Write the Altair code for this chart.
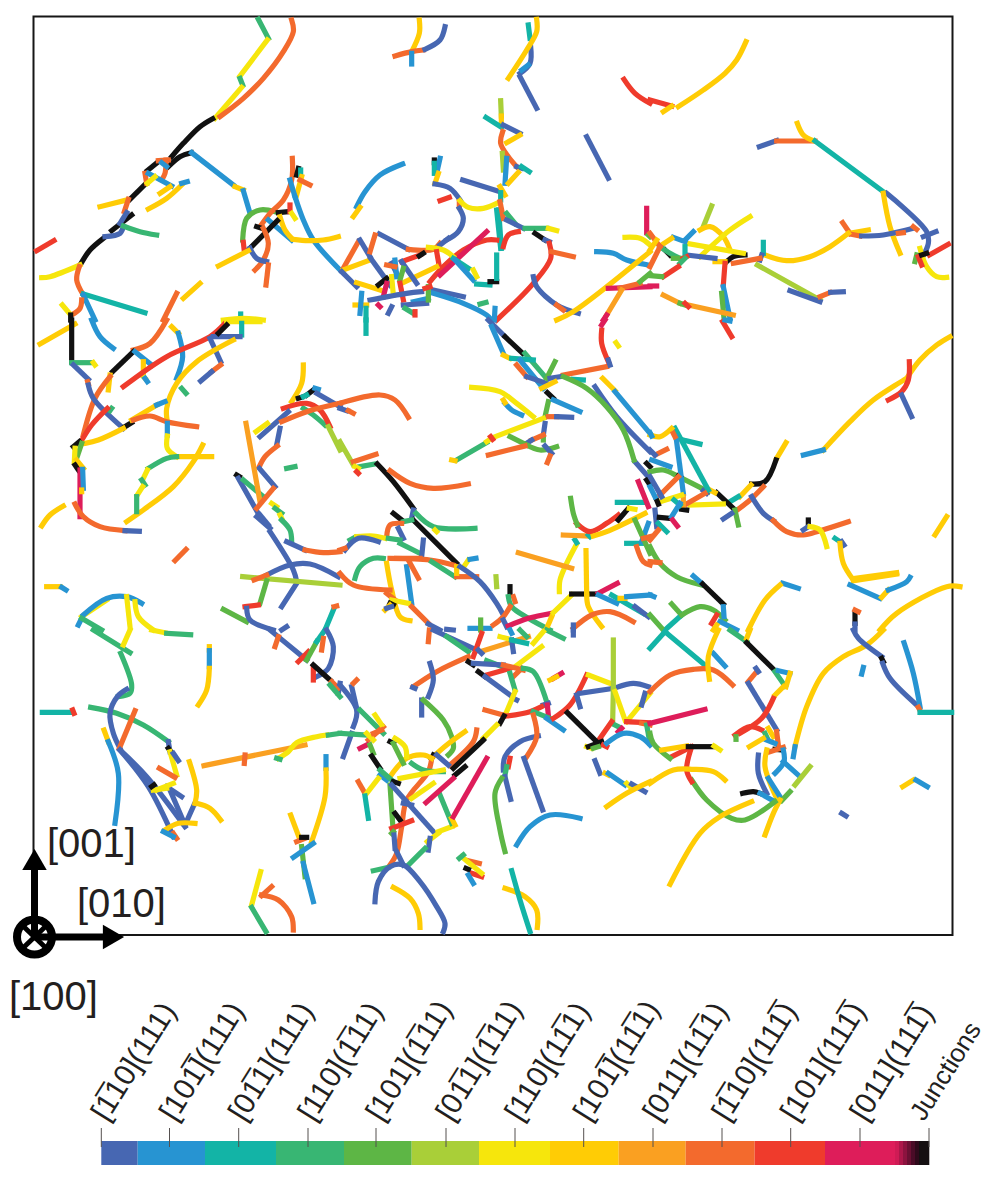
import altair as alt
import pandas as pd

# Slip-system keys
BL, SK, TE, GR, LF, LI, YE, GO, OR, DO, RE, CR, JK = range(13)
class_colors = ["#4767B2", "#2794D2", "#13B4A6", "#38B673", "#5DB645", "#A9CF38", "#F6E60C",
                "#FFCC05", "#FAA021", "#F36A2D", "#EF3B2C", "#DE1D5A", "#111111"]
class_edges = [101.3, 137.7, 205, 276, 344, 411.7, 479, 550, 618.7, 685.7, 754.7, 825, 895]
fade_edges = [895, 899, 903, 907, 911, 915, 919, 929.3]
fade_colors = ["#CF1B55", "#AD174A", "#8C133F", "#6B1033", "#4A0C27", "#2E0A1B", "#151012"]
tick_x = [101.3, 169.5, 238.7, 308, 376, 446, 515, 583.7, 653, 722, 790.7, 860, 929]
label_x = [99.3, 167.5, 236.7, 306, 374, 444, 513, 581.7, 651, 720, 788.7, 858, 917]
label_size = [30, 30, 30, 30, 30, 30, 30, 30, 30, 30, 30, 30, 26]
O = "\u0305"
tick_labels = ["[1" + O + "10](111)", "[101" + O + "](111)", "[01" + O + "1](111)",
               "[110](1" + O + "11)", "[101](1" + O + "11)", "[01" + O + "1](1" + O + "11)",
               "[110](11" + O + "1)", "[101" + O + "](11" + O + "1)", "[011](11" + O + "1)",
               "[1" + O + "10](111" + O + ")", "[101](111" + O + ")", "[011](111" + O + ")", "Junctions"]

# Dislocation lines, per region: (class, [x, y, x, y, ...]) in 1/3 px from the region origin
region_a = (30, 10, [
 (GR,[685,28,715,85]),(YE,[712,90,630,198]),(GR,[630,205,638,225]),(YE,[635,232,555,325]),
 (DO,[785,30,790,65,760,125,700,205,640,265,570,320]),(JK,[548,326,510,350,460,400,425,440]),
 (JK,[484,428,450,440,415,470]),(JK,[385,455,352,482]),(JK,[348,520,300,568]),(JK,[305,615,245,662]),
 (JK,[220,685,180,720,155,757]),(DO,[385,452,415,450]),(DO,[408,450,405,490,395,510]),(DO,[345,490,350,520]),
 (SK,[395,458,410,470]),(SK,[355,490,425,528]),(YE,[352,520,375,500]),(GO,[390,550,420,530]),
 (GO,[355,597,410,565,455,525]),(SK,[455,520,472,515]),(GO,[210,590,290,570]),(DO,[295,568,283,605]),
 (BL,[290,608,270,640]),(BL,[225,680,270,670,280,650]),(GR,[280,648,330,665,380,675]),(RE,[20,722,72,692]),
 (YE,[35,803,60,800,150,765]),(DO,[148,770,140,810,160,855]),(TE,[160,852,345,908]),(SK,[160,855,195,930]),
 (DO,[155,870,150,895,125,915]),(YE,[97,885,120,912]),(JK,[122,915,122,930]),(SK,[485,428,610,525]),
 (GO,[615,530,640,540]),(SK,[640,542,660,610]),(LF,[735,605,690,600,650,625,638,690]),(RE,[640,697,642,715]),
 (DO,[787,445,785,510,760,570,720,610,690,650]),(JK,[805,475,800,495]),(TE,[812,480,812,495]),
 (GO,[815,500,800,555]),(SK,[780,510,795,560]),(DO,[810,510,840,525]),(JK,[745,608,775,605]),(RE,[780,585,780,605]),
 (SK,[795,560,820,630,850,690,930,780]),(SK,[715,630,785,690]),(GO,[790,688,835,692,880,690,925,680]),
 (YE,[785,610,795,625]),(GO,[750,620,765,660,785,685]),(JK,[742,632,660,715]),(JK,[680,650,695,655]),
 (DO,[700,655,715,700,700,750,675,780]),(BL,[660,715,680,745,710,755]),(DO,[715,765,708,825]),
 (GO,[565,768,655,722]),(GO,[460,865,510,820]),(DO,[440,850,400,930]),(TE,[632,912,632,920]),(YE,[580,930,640,925,700,930]),
])
region_b = (340, 10, [
 (GO,[238,30,238,70,215,125]),(DO,[165,138,215,125,250,120]),(BL,[255,118,300,90,315,50]),(SK,[215,130,215,162]),
 (TE,[565,45,570,85]),(BL,[572,110,570,160,540,190]),(GO,[590,28,590,65,560,120,505,205]),(SK,[545,180,565,165]),
 (BL,[540,200,590,295]),(RE,[852,208,885,250,930,280]),(LI,[482,272,484,318]),(GO,[484,318,484,345]),
 (TE,[438,322,485,352]),(BL,[490,345,540,370]),(GO,[500,398,540,375]),(DO,[488,365,482,400,505,440,530,470]),
 (LI,[487,430,490,480]),(SK,[500,445,495,520]),(BL,[530,470,545,475]),(TE,[545,470,568,485]),(GO,[535,487,505,520]),
 (BL,[740,380,805,505]),(SK,[188,462,120,495,75,545,50,590]),(GO,[60,592,40,620]),(JK,[283,450,283,458]),
 (SK,[300,445,290,490]),(TE,[283,460,283,490]),(GO,[295,490,285,520]),(BL,[285,522,330,535,360,570]),
 (DO,[358,575,358,590]),(BL,[358,595,370,625,355,665,320,690]),(YE,[360,572,385,592,430,595,475,578]),
 (BL,[368,510,480,545]),(GO,[480,530,495,555]),(TE,[482,548,482,570]),(RE,[300,572,328,562]),
 (TE,[470,600,482,715]),(TE,[476,600,484,715]),(DO,[480,575,490,625]),(GR,[500,610,525,640]),(BL,[500,630,550,655]),
 (GR,[555,655,620,655]),(YE,[625,655,650,662]),(BL,[118,672,205,718]),(DO,[205,718,280,718,300,700]),
 (BL,[300,705,325,685]),(RE,[270,815,310,770,370,720,440,690,470,690]),(CR,[300,795,440,665]),
 (RE,[490,710,505,675,535,665]),(JK,[585,670,615,690]),(BL,[615,690,628,695]),
 (RE,[628,700,632,745,580,820,470,930]),(DO,[635,725,700,740]),(SK,[770,725,820,730,860,750,925,765]),
 (DO,[10,775,55,695]),(BL,[60,690,90,740]),(DO,[90,725,105,675]),(GO,[10,780,90,750]),(BL,[92,745,150,825]),
 (RE,[185,755,240,735]),(JK,[238,738,250,730]),(YE,[265,712,310,720,340,740]),(RE,[290,725,298,770]),
 (GO,[185,820,290,770]),(TE,[340,745,385,775]),(SK,[345,750,400,810]),(YE,[400,780,410,800]),(TE,[410,822,450,825]),
 (JK,[450,815,470,815]),(TE,[470,735,470,805]),(BL,[5,785,50,830]),(GO,[50,818,120,840]),(JK,[115,825,140,805]),
 (YE,[155,800,160,855]),(BL,[155,760,170,790]),(SK,[165,750,170,800]),(BL,[185,755,230,820]),(LF,[190,775,180,810]),
 (DO,[140,765,165,770]),(CR,[140,820,130,860]),(RE,[180,820,190,870]),(BL,[90,870,200,850,245,845]),
 (SK,[220,875,265,865]),(BL,[190,885,260,880]),(BL,[280,840,370,860]),(SK,[280,850,370,880,440,915,455,930]),
 (LF,[265,830,265,870]),(RE,[270,830,255,835]),(SK,[465,895,463,930]),(GO,[45,885,80,885]),(TE,[78,895,78,930]),
 (SK,[65,850,60,910]),(BL,[145,910,155,890]),(GR,[195,895,220,910]),(RE,[225,905,225,915]),(CR,[115,885,120,890]),
 (GR,[420,882,438,877]),(BL,[580,800,590,830,650,885,715,910]),(DO,[650,885,670,900]),
 (GO,[650,930,700,905,930,725]),(CR,[805,835,930,830]),(DO,[840,835,900,820]),(LF,[900,815,930,790]),
 (OR,[845,840,800,915]),(CR,[800,915,790,930]),(CR,[920,595,920,668]),(YE,[855,682,900,685,930,705]),(LF,[925,675,930,680]),
])
region_c = (650, 10, [
 (GO,[288,95,260,150,225,190,160,240,85,290]),(RE,[0,270,65,288]),(GO,[65,288,40,305]),(BL,[328,410,380,392]),
 (DO,[380,393,495,393]),(GO,[442,340,460,375,490,392]),(TE,[495,393,700,545]),(BL,[710,550,830,665,835,700,815,745]),
 (GO,[700,550,720,650,750,730]),(BL,[858,665,820,680]),(DO,[578,638,600,670]),(GO,[598,670,655,660]),
 (DO,[600,672,630,678]),(BL,[635,678,700,675,790,655]),(DO,[790,650,800,658]),(DO,[745,670,760,668]),
 (GO,[345,735,410,752,480,740,540,710,595,670]),(RE,[895,703,838,735]),(YE,[810,715,830,770,860,800,890,802]),
 (LF,[800,735,795,755]),(RE,[805,740,815,765]),(JK,[815,735,830,730]),(TE,[340,697,340,730]),(BL,[335,735,330,750]),
 (DO,[330,745,250,760]),(JK,[230,755,250,740,285,735]),(GO,[195,755,225,755]),(RE,[225,760,220,825]),
 (LI,[322,765,510,870]),(BL,[420,842,510,875]),(DO,[510,860,540,848]),(BL,[542,847,580,845]),(LI,[185,588,160,650]),
 (GO,[150,660,180,650,220,680,240,720]),(SK,[130,665,105,690]),(YE,[110,700,280,730]),(YE,[300,620,240,660,150,740]),
 (BL,[110,735,195,745]),(SK,[70,682,105,695]),(GO,[65,685,35,705]),(JK,[45,720,60,735]),(GR,[30,710,60,730,90,745]),
 (LF,[70,745,100,745]),(TE,[105,710,105,735]),(RE,[100,745,110,740]),(GR,[90,760,105,745]),(RE,[40,800,85,770]),
 (LF,[0,797,35,800]),(CR,[0,828,20,828]),(SK,[220,830,240,925]),(LF,[215,850,222,925]),(OR,[40,855,90,880]),
 (OR,[115,885,250,915]),(LF,[90,880,105,885]),(RE,[105,880,115,890]),(DO,[0,670,30,710]),(GO,[0,720,20,690]),
 (DO,[30,710,0,770]),
])
region_d = (30, 320, [
 (GO,[30,72,135,12]),(JK,[125,0,125,125]),(SK,[185,0,210,50,250,85]),(GR,[125,128,185,128]),(YE,[190,128,195,135]),
 (DO,[310,90,360,70,410,0]),(JK,[310,95,248,155]),(SK,[315,95,365,135]),(GO,[340,125,340,165]),(YE,[335,165,345,175]),
 (SK,[345,175,352,185]),(GO,[425,20,445,40]),(SK,[445,40,458,110,440,175]),(RE,[280,200,410,110,540,50,585,10]),
 (YE,[590,5,690,5]),(TE,[635,10,635,45]),(BL,[550,50,630,50]),(JK,[565,40,590,15]),(BL,[540,55,572,125]),
 (DO,[572,135,545,155]),(BL,[545,155,512,183]),(GO,[610,60,500,125,440,190,410,265,412,305]),(GO,[240,165,235,210]),
 (DO,[240,170,195,235,160,345]),(BL,[130,135,175,178]),(DO,[173,185,175,192]),(BL,[175,195,190,235,280,325]),
 (JK,[282,322,305,308]),(GO,[305,300,380,255]),(SK,[380,255,405,245]),(GR,[245,265,240,272]),
 (RE,[232,265,185,315,150,370]),(GO,[165,370,205,360,280,325]),(DO,[310,300,360,288,410,305,500,320]),
 (SK,[412,310,412,345]),(YE,[412,348,412,385,440,410]),(GO,[440,410,545,410]),
 (GO,[518,375,490,425,430,500,340,570,290,605]),(GR,[440,410,410,415,355,445]),(YE,[352,450,340,475]),
 (GR,[335,480,345,495]),(YE,[338,500,322,525]),(GR,[320,530,320,575]),(GR,[455,205,468,220]),(JK,[130,380,148,365]),
 (LF,[155,370,140,415]),(YE,[135,385,133,425]),(GO,[140,420,160,445]),(JK,[135,435,145,450]),(CR,[150,450,150,590]),
 (SK,[158,448,160,505]),(GO,[155,510,155,515]),(GO,[100,558,60,585,35,618]),(DO,[135,552,160,590,210,620,285,632]),
 (BL,[285,632,328,634]),(DO,[468,688,435,722]),(GO,[50,800,90,800]),(SK,[95,802,108,810]),
 (GO,[820,135,815,190,785,245]),(JK,[805,235,815,232]),(JK,[830,225,850,210]),(SK,[855,205,865,208]),
 (TE,[820,230,830,225]),(BL,[860,220,930,260]),(GR,[820,265,850,285,885,315]),(RE,[760,265,830,250,870,270,900,320]),
 (LI,[895,320,930,390]),(BL,[690,350,775,275]),(DO,[755,305,830,275,930,250]),(YE,[678,335,712,310]),
 (BL,[750,325,740,375]),(DO,[742,378,705,410,688,440]),(GR,[770,445,795,440]),(BL,[688,445,735,500]),
 (JK,[620,465,628,470]),(BL,[625,475,690,590]),(BL,[680,590,720,625]),(BL,[690,585,715,615]),(GR,[640,480,700,530]),
 (OR,[648,310,690,545]),(DO,[730,505,680,565]),(YE,[725,550,740,560]),(GR,[735,565,755,580]),(YE,[750,585,755,595]),
 (GR,[755,600,780,630,785,665]),(BL,[720,635,790,750,800,785]),(BL,[800,790,755,860]),(BL,[770,665,825,690]),
 (DO,[825,690,880,698,930,695]),(BL,[710,765,780,735,840,732,925,770]),(LI,[638,770,930,795]),(DO,[672,780,710,765]),
 (LF,[710,782,690,850]),(RE,[645,860,685,855]),(LF,[580,868,650,905]),(BL,[650,865,660,900,730,930]),
 (BL,[755,930,770,920]),(TE,[885,930,912,865]),(DO,[912,860,920,858]),(SK,[145,915,155,895]),(YE,[155,890,230,840]),
 (SK,[160,885,230,835,290,830,335,850]),(YE,[290,830,300,920]),(YE,[315,845,325,890,370,930]),(GR,[155,895,215,930]),
])
region_e = (340, 320, [
 (TE,[78,0,78,40]),(BL,[445,0,490,45]),(SK,[455,20,490,100]),(JK,[495,50,548,100]),(GR,[555,100,615,170]),
 (GO,[490,105,510,115]),(TE,[515,115,580,120]),(DO,[530,135,560,170]),(SK,[540,120,610,205]),(BL,[560,170,620,190]),
 (LF,[645,125,620,175]),(DO,[670,165,800,140]),(BL,[630,175,660,170]),(GO,[605,205,645,185]),(TE,[700,178,730,180]),
 (RE,[805,125,785,70,785,30]),(CR,[785,15,795,0]),(BL,[805,120,810,135]),(JK,[622,218,640,235]),(LF,[625,245,615,290]),
 (SK,[640,240,720,275]),(DO,[625,290,650,290]),(BL,[650,290,695,292]),(YE,[395,202,480,215,530,250,580,290]),
 (SK,[495,250,515,270,545,285]),(GO,[490,240,495,248]),(YE,[460,352,610,295]),(BL,[615,310,610,345]),
 (LF,[610,350,610,360]),(DO,[610,345,575,360]),(BL,[575,360,560,370]),(LF,[510,350,560,375]),
 (LF,[560,375,600,390,650,380]),(BL,[615,378,635,400]),(DO,[630,408,622,428]),(GR,[350,420,440,368]),
 (YE,[440,365,450,358]),(RE,[452,350,458,358]),(GO,[335,420,345,422]),(DO,[445,405,555,378]),
 (DO,[0,250,120,225,165,240,205,292]),(BL,[0,265,20,272]),(DO,[25,272,40,280]),(LI,[0,365,40,435]),(DO,[40,425,108,403]),
 (GR,[60,440,105,432]),(YE,[45,440,55,445]),(RE,[50,455,55,460]),(JK,[112,432,160,485,220,565]),
 (DO,[150,452,210,490,280,505,385,492]),(BL,[220,570,215,595]),(GR,[228,580,280,620,405,625]),(YE,[285,630,290,635]),
 (JK,[160,580,185,600]),(JK,[220,600,350,730]),(GR,[190,605,215,600]),(DO,[185,610,150,615,140,650]),(BL,[175,625,190,655]),
 (GR,[30,660,45,652]),(YE,[50,650,100,648,135,655]),(BL,[115,665,55,655,15,690]),(DO,[0,690,15,685]),(GR,[145,655,180,660]),
 (GR,[180,670,240,700]),(BL,[250,660,245,710]),(DO,[150,715,270,720,340,735]),(DO,[170,715,240,715]),
 (GR,[45,775,60,740,100,715,130,715]),(GO,[140,730,155,810,180,890,210,902]),(SK,[200,740,215,850]),(DO,[205,720,235,775]),
 (GR,[275,725,345,770]),(DO,[350,770,410,770]),(GO,[350,740,350,760]),(YE,[375,735,385,720]),(SK,[390,718,408,715]),
 (BL,[360,740,420,785,470,850,490,885]),(DO,[0,760,40,795,150,810]),(DO,[140,820,165,840]),(YE,[155,840,205,850]),
 (JK,[150,850,160,855]),(GO,[135,870,150,855]),(BL,[140,865,155,860]),(DO,[215,860,265,910]),(BL,[265,912,300,930]),
 (BL,[320,928,340,930]),(SK,[390,925,450,925]),(LI,[468,770,470,800]),(JK,[510,800,510,825]),(DO,[520,830,525,845]),
 (GR,[505,830,515,860,565,895,630,930]),(DO,[510,860,490,890,460,915]),(LF,[422,900,422,930]),(BL,[490,900,500,920]),
 (CR,[505,918,565,895,635,880]),(GO,[635,890,620,925]),(YE,[640,878,695,825]),(JK,[695,822,770,822]),(CR,[775,820,832,790]),
 (YE,[710,672,680,730,660,780,658,815]),(TE,[705,660,710,668]),(GO,[738,692,740,820]),(GO,[740,825,745,860,785,920]),
 (OR,[535,698,695,745]),(OR,[670,645,745,648]),(TE,[745,645,750,650]),(RE,[710,610,750,635,800,610,835,585]),
 (JK,[835,600,865,565]),(GO,[760,648,800,635,915,580]),(YE,[868,565,885,568]),(LF,[692,535,700,580,712,615]),
 (TE,[832,547,915,547]),(CR,[895,485,925,560]),(BL,[885,425,920,465]),(JK,[920,430,930,440]),(JK,[920,480,930,495]),
 (BL,[765,200,830,290,930,395]),(LF,[670,170,740,205,800,260,850,330,882,420]),(GO,[788,175,825,212]),(SK,[825,215,930,340]),
 (DO,[700,925,755,885,810,875,880,905]),(BL,[700,915,700,930]),(SK,[775,825,830,850]),(TE,[815,825,910,880]),
 (GO,[840,835,855,835]),(SK,[860,830,930,825]),(BL,[885,860,925,890]),(TE,[860,670,910,670]),(SK,[925,610,905,665]),
 (LF,[885,600,930,700]),(DO,[890,680,910,725,930,735]),(DO,[910,655,930,650]),(YE,[828,68,835,78]),
])
region_f = (650, 320, [
 (RE,[218,5,245,50]),(SK,[225,0,240,3]),(GO,[520,390,600,305,670,240,770,175]),(SK,[460,405,520,390]),
 (GO,[770,175,810,120,860,75,900,50]),(RE,[778,125,775,180,755,215,715,240]),(BL,[755,225,785,290]),(GO,[408,368,380,415]),
 (JK,[378,420,345,485,305,492]),(GO,[303,495,270,530]),(TE,[265,530,240,545]),(DO,[340,500,300,540,255,575]),
 (JK,[200,518,250,565]),(LF,[255,570,265,615]),(BL,[245,580,220,597]),(YE,[120,555,220,552]),
 (LF,[0,455,40,450,90,472,175,515]),(BL,[160,512,170,520]),(GO,[180,510,195,518]),(JK,[85,468,92,472]),
 (TE,[75,325,175,510]),(SK,[78,350,100,520]),(TE,[100,360,150,372]),(GO,[0,345,30,350,65,325]),(SK,[0,338,5,348]),
 (DO,[70,340,75,350]),(DO,[15,405,50,388]),(BL,[0,390,15,405]),(SK,[5,420,60,440]),(DO,[165,520,95,560]),
 (DO,[30,525,85,470]),(JK,[95,568,110,570]),(OR,[100,530,100,555]),(YE,[30,545,95,525]),(TE,[72,540,90,555]),
 (JK,[20,540,25,552]),(BL,[0,470,35,530]),(SK,[0,500,15,530]),(BL,[15,570,20,620]),(JK,[28,592,60,595]),
 (SK,[65,590,90,550]),(CR,[68,600,82,618]),(TE,[25,610,50,635]),(DO,[0,660,25,630]),
 (BL,[305,530,340,580,370,602]),(DO,[370,602,410,635,460,645,510,632,595,605]),(JK,[475,600,475,615]),(BL,[460,630,475,620]),
 (YE,[480,620,510,630,530,680]),(TE,[555,655,570,665]),(BL,[575,665,582,675]),(GO,[570,670,580,730,610,780]),
 (GO,[610,782,740,762]),(GO,[610,776,740,758]),(SK,[600,795,690,835]),(GO,[695,832,715,810]),(SK,[715,810,770,785,780,772]),
 (GO,[890,590,855,645]),(SK,[398,790,445,805]),(GO,[390,795,345,840,295,930]),(LF,[0,680,30,730,80,770,155,795]),
 (SK,[130,768,155,790]),(JK,[158,792,220,852]),(DO,[0,725,30,728]),(SK,[0,825,12,830]),(LF,[65,852,95,885]),
 (TE,[45,930,95,885]),(LF,[95,885,150,860,190,870,225,900]),(SK,[220,860,222,890]),(RE,[185,910,200,885]),
 (SK,[210,905,260,930]),(GO,[200,915,190,930]),(LF,[0,885,40,930]),(GO,[690,930,740,880,890,800,930,800]),
 (JK,[615,880,615,910]),(DO,[615,870,625,875]),(BL,[615,912,615,930]),
])
region_g = (30, 630, [
 (GR,[190,0,300,68]),(YE,[300,0,280,45]),(YE,[365,0,405,8]),(GR,[410,10,482,14]),(GO,[538,50,538,60]),(SK,[538,62,538,110]),
 (GO,[538,115,530,180,505,225]),(GR,[272,70,305,165,300,190,265,200]),(TE,[37,247,125,247]),(RE,[128,240,132,250]),
 (GR,[182,232,260,250,340,285,415,335]),(BL,[290,178,262,200,240,250,250,310,270,355]),(DO,[315,242,268,355]),
 (BL,[415,335,420,365]),(JK,[415,355,420,362]),(YE,[420,365,440,435]),(BL,[430,370,445,392]),(GO,[222,300,235,335]),
 (SK,[235,335,265,430,255,580]),(DO,[388,415,435,442]),(BL,[270,360,355,470,430,620]),(BL,[270,360,350,440,465,590]),
 (BL,[410,470,455,500]),(BL,[420,480,465,585]),(BL,[492,525,465,585]),(YE,[380,480,430,460]),(YE,[370,480,410,475]),
 (JK,[365,470,372,465]),(GO,[405,600,445,580,495,580]),(DO,[430,610,440,625]),(SK,[400,605,430,620]),
 (GO,[478,395,500,480,495,520]),(GO,[500,520,540,535,572,570]),(OR,[522,407,825,345]),(DO,[645,375,643,400]),
 (YE,[745,385,775,365,800,338,860,320,890,315]),(GR,[895,315,930,310]),(GR,[740,385,750,388]),(SK,[888,380,888,415]),
 (GO,[888,420,885,500,845,635]),(GO,[782,555,810,630]),(DO,[800,635,825,625]),(JK,[815,622,830,622]),(LF,[815,650,825,740]),
 (SK,[790,682,850,640]),(SK,[820,700,850,815]),(YE,[692,725,665,825]),(GR,[665,832,708,905]),(DO,[725,770,695,797]),
 (DO,[695,795,745,810,785,860,790,900]),(BL,[720,0,830,90]),(DO,[745,20,735,50]),(RE,[835,65,805,95]),(LF,[860,35,830,90]),
 (TE,[885,0,860,35]),(DO,[880,25,875,60]),(BL,[890,0,910,50,895,115,860,140]),(RE,[850,110,850,150]),(JK,[850,105,900,150]),
 (BL,[930,160,925,190]),(DO,[905,155,925,175]),(GR,[900,165,930,200]),
])
region_h = (340, 630, [
 (DO,[268,0,265,35]),(BL,[280,0,410,60]),(GR,[320,20,385,65]),(OR,[430,62,565,20]),(RE,[425,10,400,80]),(BL,[415,60,425,70]),
 (YE,[480,20,500,25]),(SK,[510,0,515,10]),(BL,[515,30,520,65]),(GR,[540,0,560,20]),(GR,[620,0,670,25]),(BL,[700,0,700,15]),
 (YE,[610,5,580,40]),(TE,[515,30,560,40]),(YE,[605,50,525,110]),(DO,[220,170,290,125,385,80]),(BL,[218,172,225,175]),
 (BL,[270,100,280,150,265,200]),(BL,[245,210,245,255]),(LF,[250,210,310,270,335,320,340,355,325,375]),(JK,[385,95,400,105]),
 (GR,[440,92,500,115]),(BL,[400,100,490,105]),(RE,[440,135,510,115]),(DO,[490,105,530,115,550,120]),(JK,[415,125,435,140]),
 (BL,[435,140,510,195]),(BL,[520,205,530,210]),(DO,[545,115,520,140]),(GR,[510,130,525,180]),(GR,[550,115,580,125,620,215]),
 (BL,[610,225,625,220]),(YE,[525,185,500,245]),(DO,[435,240,490,255]),(RE,[500,258,570,245,605,230]),(CR,[622,225,625,255]),
 (GR,[580,245,630,265]),(SK,[620,265,670,300]),(RE,[640,265,690,225,740,135]),(BL,[595,318,540,335,495,380,490,420]),
 (DO,[560,380,590,320,580,255]),(RE,[510,385,505,410]),(GR,[500,410,495,435]),(BL,[495,440,512,508]),
 (LF,[485,445,465,490,480,600,495,665]),(BL,[552,385,608,540]),(SK,[530,645,570,590,630,555,720,565]),(JK,[492,258,480,280]),
 (YE,[470,285,430,325]),(DO,[410,300,400,335,330,405]),(JK,[430,330,340,415]),(GO,[375,305,320,345,280,380]),
 (JK,[280,375,275,385]),(BL,[290,375,325,405]),(JK,[345,435,375,410]),(LF,[150,465,160,610]),
 (DO,[275,385,265,425,200,510,185,590,170,670,150,705]),(YE,[215,505,280,460]),(GO,[150,440,200,385,250,375,275,385]),
 (GR,[215,400,250,420,310,425]),(YE,[180,445,310,420]),(JK,[150,335,160,340]),(LF,[160,340,190,400]),(YE,[165,325,195,350,200,380]),
 (BL,[35,170,50,235]),(DO,[40,160,50,150]),(BL,[0,165,50,240,40,290]),(BL,[35,310,10,380]),(GR,[0,310,75,315]),
 (GR,[60,240,130,310]),(DO,[85,330,130,290]),(YE,[80,310,100,330]),(YE,[105,255,125,285]),(CR,[60,355,80,345]),
 (DO,[100,310,125,300]),(LF,[90,345,100,370]),(JK,[95,378,120,415]),(SK,[120,435,140,450]),(GR,[120,420,155,450]),
 (JK,[160,455,175,460]),(DO,[55,455,75,490]),(YE,[80,490,115,445]),(TE,[75,498,85,565]),(BL,[155,465,280,605]),
 (BL,[190,520,215,525]),(JK,[165,550,180,570]),(RE,[155,595,215,572]),(LF,[155,610,160,605]),(BL,[162,615,165,655]),
 (YE,[295,605,335,590]),(GR,[300,495,335,580]),(GO,[335,565,345,585]),(CR,[258,518,340,445]),(CR,[340,560,440,385]),
 (YE,[262,635,295,610]),(BL,[270,625,265,660]),(GR,[255,655,205,705]),(GR,[100,722,145,712]),(BL,[170,665,190,705]),
 (BL,[105,815,115,755,150,710,190,705,240,755,290,830,315,880,310,905]),(GO,[160,772,210,805,235,850,240,892]),
 (DO,[385,692,418,700]),(RE,[395,730,425,740]),(YE,[365,680,425,730]),(GR,[358,685,370,675]),(JK,[378,715,385,718]),
 (SK,[385,735,400,760]),(GO,[495,775,555,800,590,840,592,892]),(TE,[515,722,540,810,570,905]),(CR,[640,145,665,130]),
 (GO,[630,150,650,140]),(YE,[745,135,810,160]),(BL,[720,190,820,175]),(BL,[710,195,720,230]),(BL,[830,172,880,160,925,170]),
 (LI,[820,30,820,175]),(LI,[820,180,818,275]),(YE,[825,185,855,270]),(YE,[860,275,930,190]),(BL,[905,225,915,190]),
 (GR,[815,280,835,290]),(RE,[780,325,815,275]),(CR,[835,305,845,295]),(RE,[860,275,925,278]),(DO,[905,280,930,285]),
 (GR,[920,285,930,340]),(JK,[682,248,780,345]),(YE,[740,350,755,355]),(JK,[745,350,785,335]),(RE,[790,345,800,350]),
 (LF,[760,355,775,350]),(SK,[800,340,850,310,900,320,930,345]),(BL,[765,392,780,430]),(GO,[795,430,805,435]),
 (SK,[805,430,855,465]),(YE,[860,460,870,470]),(BL,[875,462,915,485]),(GO,[800,530,860,490,930,455]),
])
region_i = (650, 630, [
 (TE,[0,55,45,5]),(TE,[45,5,170,110]),(SK,[190,70,225,108]),(DO,[0,185,60,135,130,118,190,120,248,165]),(GO,[205,0,175,80,178,148]),
 (GR,[240,0,290,35]),(GO,[290,25,300,0]),(JK,[290,38,378,125]),(GR,[375,125,405,168]),(SK,[385,122,420,130]),(GO,[420,130,408,170]),
 (DO,[295,155,320,125]),(BL,[318,115,325,125]),(BL,[295,160,380,300]),(GO,[375,195,400,170]),(RE,[370,205,335,265,270,310]),
 (RE,[255,315,300,290,335,300]),(LF,[258,320,258,328]),(GO,[355,295,370,320]),(GR,[345,310,352,325]),(DO,[380,305,385,345]),
 (SK,[350,330,375,340]),(JK,[375,358,395,360]),(DO,[360,365,400,352]),(GO,[298,350,340,325]),(SK,[400,360,402,395,375,430]),
 (SK,[400,395,450,440]),(GO,[435,350,470,230,520,130,580,80,650,45,700,0]),(SK,[435,350,430,380]),(BL,[610,0,625,25,695,80]),
 (JK,[695,85,700,95]),(BL,[698,100,720,145,800,225]),(SK,[762,38,790,130,810,230]),(DO,[805,232,812,245]),(TE,[810,247,905,247]),
 (SK,[640,112,635,132]),(LI,[480,410,435,465]),(BL,[325,375,325,430,350,490]),(GO,[350,360,345,410,380,505]),(SK,[355,445,390,500]),
 (JK,[278,490,310,485,330,490]),(SK,[330,490,375,515]),(LF,[420,485,395,512]),(GO,[390,510,370,550,345,615]),
 (LF,[375,515,285,570,245,565,170,510,125,450]),(RE,[125,455,110,420,125,350]),(RE,[125,350,65,380]),
 (GO,[0,460,70,420,130,418,190,425,225,450]),(CR,[0,280,165,238]),(LF,[0,310,10,340,60,385]),(GO,[35,360,110,348]),
 (JK,[115,350,188,350]),(YE,[192,348,210,360]),(GO,[305,515,210,560,150,610,60,763]),(GO,[758,470,790,450]),(SK,[798,450,832,470]),
 (BL,[575,550,588,558]),
])
regions = [region_a, region_b, region_c, region_d, region_e, region_f, region_g, region_h, region_i]

rows = []
line_id = 0
for ox, oy, lines in regions:
    for key, pts in lines:
        for k in range(0, len(pts), 2):
            rows.append({"x": ox + pts[k] / 3, "y": oy + pts[k + 1] / 3, "line": line_id, "cls": key, "k": k})
        line_id += 1
lines_df = pd.DataFrame(rows)

xs = alt.Scale(domain=[8, 986], range=[0, 978], nice=False, zero=False)
ys = alt.Scale(domain=[8, 1168], range=[0, 1160], nice=False, zero=False)
X = lambda f="x": alt.X(f, type="quantitative", scale=xs, axis=None)
Y = lambda f="y": alt.Y(f, type="quantitative", scale=ys, axis=None)

frame = alt.Chart(pd.DataFrame({"x": [33.5], "x2": [952.5], "y": [16.5], "y2": [935]})).mark_rect(
    fill="white", stroke="#161616", strokeWidth=2).encode(X(), x2="x2", y=Y(), y2="y2")

dislocations = alt.Chart(lines_df).mark_line(strokeWidth=5.2, strokeCap="square", strokeJoin="round",
                                             interpolate="catmull-rom").encode(
    X(), Y(),
    color=alt.Color("cls:N", scale=alt.Scale(domain=list(range(13)), range=class_colors), legend=None),
    detail="line:N", order="k:Q")

bar_df = pd.DataFrame({"x": class_edges[:12] + fade_edges[:-1],
                       "x2": class_edges[1:] + fade_edges[1:],
                       "c": class_colors[:12] + fade_colors})
bar_df["y"] = 1141
bar_df["y2"] = 1165
colorbar = alt.Chart(bar_df).mark_rect().encode(X(), x2="x2", y=Y(), y2="y2", fill=alt.Fill("c:N", scale=None))

tick_df = pd.DataFrame({"x": tick_x, "lx": label_x, "fs": label_size, "label": tick_labels})
tick_df["y"] = 1128
tick_df["y2"] = 1147
ticks = alt.Chart(tick_df).mark_rule(color="#55504f", strokeWidth=1).encode(X(), y=Y(), y2="y2")
tick_df["ly"] = 1118
tick_text = alt.Chart(tick_df).mark_text(align="left", baseline="middle", angle=302, font="Liberation Sans",
                                         color="#231f20").encode(
    X("lx"), y=Y("ly"), text="label:N", size=alt.Size("fs:Q", scale=None))

name_df = pd.DataFrame({"x": [47, 77, 9], "y": [857, 917, 1010], "t": ["[001]", "[010]", "[100]"]})
names = alt.Chart(name_df).mark_text(align="left", baseline="alphabetic", font="Liberation Sans", fontSize=40,
                                     color="#231f20").encode(X(), y=Y(), text="t:N")

shaft_df = pd.DataFrame({"x": [34.5, 34.5, 23, 23], "x2": [34.5, 104, 46, 46], "y": [937, 937, 926, 948],
                         "y2": [868, 937, 948, 926], "w": [7, 7, 5, 5]})
shafts = alt.Chart(shaft_df).mark_rule(color="black").encode(
    X(), x2="x2", y=Y(), y2="y2", strokeWidth=alt.StrokeWidth("w:Q", scale=None))
heads = alt.Chart(pd.DataFrame({"x": [34.5, 113.5], "y": [859.5, 937], "s": ["triangle-up", "triangle-right"]})).mark_point(
    filled=True, color="black", size=600, opacity=1).encode(X(), Y(), shape=alt.Shape("s:N", scale=None))
ring = alt.Chart(pd.DataFrame({"x": [34.5], "y": [937]})).mark_point(
    filled=False, color="black", size=1225, strokeWidth=8, opacity=1).encode(X(), Y())

chart = alt.layer(frame, dislocations, colorbar, ticks, tick_text, names, shafts, heads, ring).properties(
    width=978, height=1160, padding=0,
    autosize=alt.AutoSizeParams(type="none", contains="padding")
).configure_view(stroke=None)

chart.save("out.html", embed_options={"renderer": "svg", "actions": False})
